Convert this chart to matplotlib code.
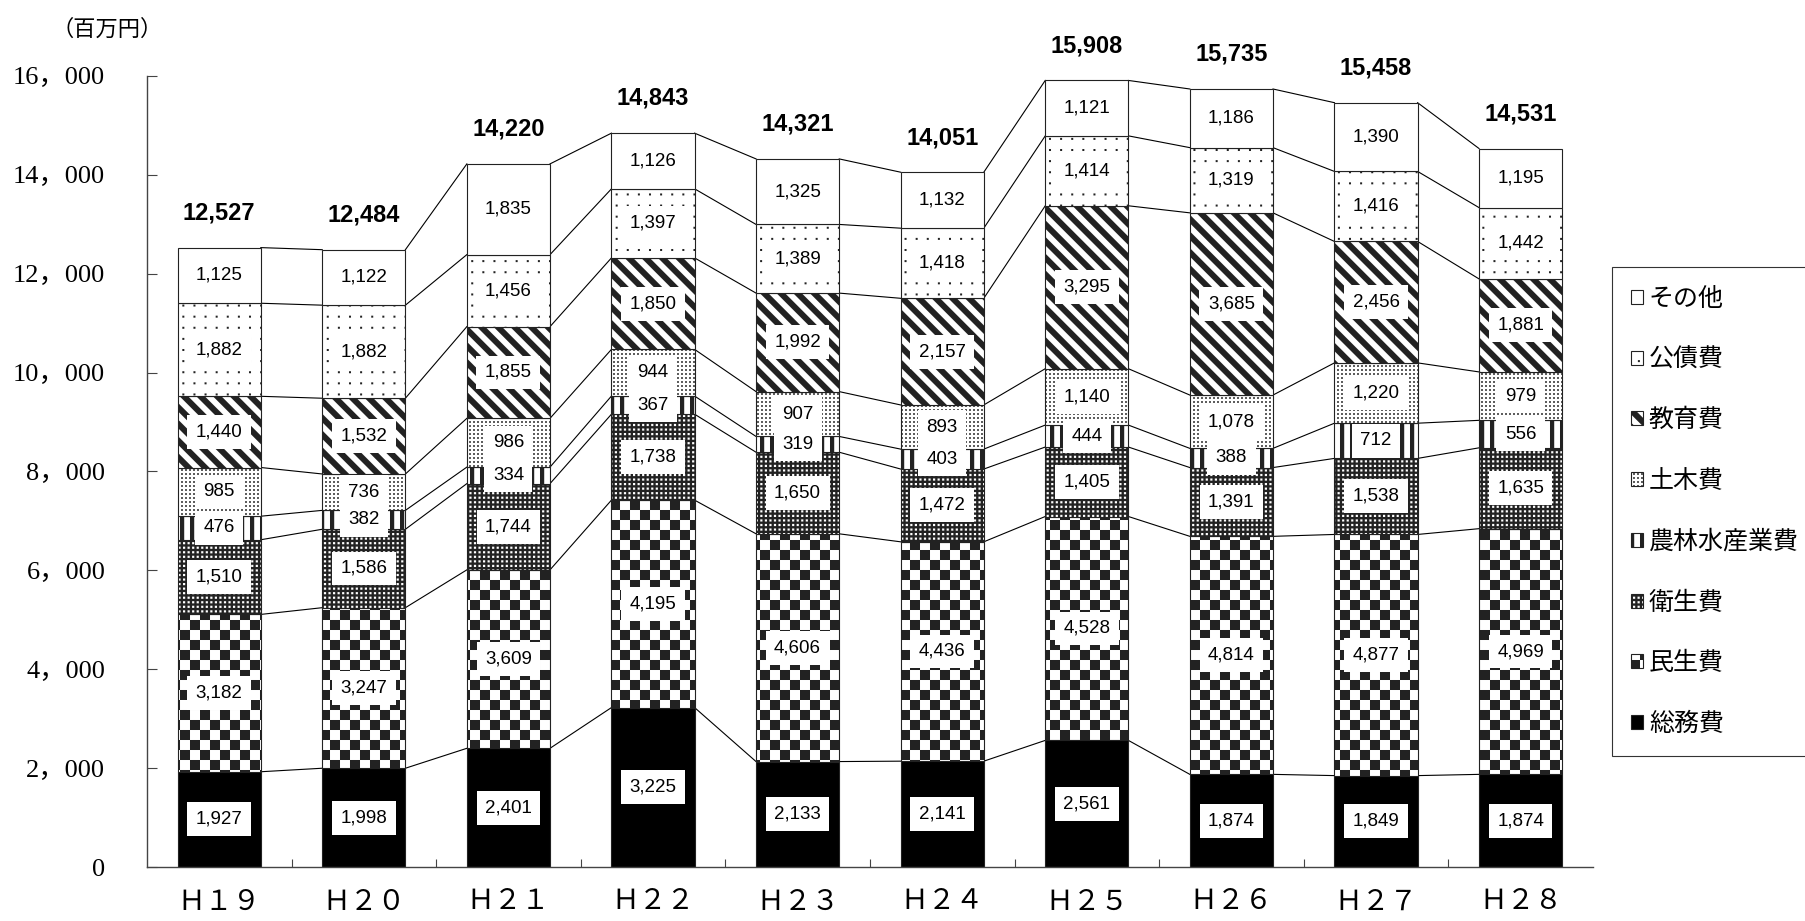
import warnings
import numpy as np
import matplotlib
matplotlib.use('Agg')
import matplotlib.pyplot as plt
import matplotlib.hatch as mhatch
from matplotlib.path import Path

warnings.filterwarnings('ignore')

# 年度
years = ['Ｈ１９', 'Ｈ２０', 'Ｈ２１', 'Ｈ２２', 'Ｈ２３',
         'Ｈ２４', 'Ｈ２５', 'Ｈ２６', 'Ｈ２７', 'Ｈ２８']
items = ['総務費', '民生費', '衛生費', '農林水産業費', '土木費', '教育費', '公債費', 'その他']

# 百万円
somu = [1927, 1998, 2401, 3225, 2133, 2141, 2561, 1874, 1849, 1874]
minsei = [3182, 3247, 3609, 4195, 4606, 4436, 4528, 4814, 4877, 4969]
eisei = [1510, 1586, 1744, 1738, 1650, 1472, 1405, 1391, 1538, 1635]
norin = [476, 382, 334, 367, 319, 403, 444, 388, 712, 556]
doboku = [985, 736, 986, 944, 907, 893, 1140, 1078, 1220, 979]
kyoiku = [1440, 1532, 1855, 1850, 1992, 2157, 3295, 3685, 2456, 1881]
kosai = [1882, 1882, 1456, 1397, 1389, 1418, 1414, 1319, 1416, 1442]
sonota = [1125, 1122, 1835, 1126, 1325, 1132, 1121, 1186, 1390, 1195]
totals = [12527, 12484, 14220, 14843, 14321, 14051, 15908, 15735, 15458, 14531]

series = [somu, minsei, eisei, norin, doboku, kyoiku, kosai, sonota]


# --- wlasne wzory kreskowania (komorka 1x1 = 1 cal) ---
def kw(x, y, s, rev=False):
    p = [[x, y], [x + s, y], [x + s, y + s], [x, y + s]]
    if rev:
        p = p[::-1]
    return np.array(p, float)


def tex_checker():
    n = 10
    c = 1.0 / n
    return [kw(i * c, j * c, c) for i in range(n) for j in range(n) if (i + j) % 2 == 0]


def tex_dark():
    n = 22
    c = 1.0 / n
    h = 0.022
    polys = [kw(0, 0, 1)]
    for i in range(n):
        for j in range(n):
            polys.append(kw(i * c + (c - h) / 2, j * c + (c - h) / 2, h, rev=True))
    return polys


def tex_vstripes():
    n = 10
    c = 1.0 / n
    w = 0.042
    return [np.array([[i * c, 0], [i * c + w, 0], [i * c + w, 1], [i * c, 1]], float)
            for i in range(n)]


def tex_dots(n, s):
    c = 1.0 / n
    return [kw(i * c + (c - s) / 2, j * c + (c - s) / 2, s) for i in range(n) for j in range(n)]


def tex_diag():
    n = 6
    w = 0.085
    polys = []
    for k in range(-1, 2 * n + 2):
        c0 = k / n
        polys.append(np.array([[0, c0], [1, c0 - 1], [1, c0 - 1 + w], [0, c0 + w]], float))
    return polys


TEXTURES = {
    'k': tex_checker,
    'e': tex_dark,
    'v': tex_vstripes,
    'd': lambda: tex_dots(25, 0.017),
    'b': tex_diag,
    's': lambda: tex_dots(9, 0.02),
}


class Texture(mhatch.HatchPatternBase):
    def __init__(self, hatch, density):
        self.polys = []
        for ch in TEXTURES:
            if ch in hatch:
                self.polys += TEXTURES[ch]()
        self.num_vertices = sum(len(p) + 1 for p in self.polys)

    def set_vertices_and_codes(self, vertices, codes):
        i = 0
        for p in self.polys:
            n = len(p)
            vertices[i:i + n] = p
            vertices[i + n] = p[0]
            codes[i] = Path.MOVETO
            codes[i + 1:i + n] = Path.LINETO
            codes[i + n] = Path.CLOSEPOLY
            i += n + 1


mhatch._hatch_types.append(Texture)
plt.rcParams['hatch.linewidth'] = 0.01

# styl serii: (kolor tla, wzor)
styles = [('black', None), ('white', 'k'), ('white', 'e'), ('white', 'v'),
          ('white', 'd'), ('white', 'b'), ('white', 's'), ('white', None)]

fig = plt.figure(figsize=(18.05, 9.21), dpi=100)
ax = fig.add_axes([0.0814, 0.0586, 0.8011, 0.859])

x = np.arange(len(years))
width = 0.575
edge = '#222222'

bottom = np.zeros(len(years))
handles = []
for k, vals in enumerate(series):
    vals = np.array(vals, float)
    fc, h = styles[k]
    bars = ax.bar(x, vals, width, bottom=bottom, facecolor=fc, edgecolor=edge,
                  hatch=h, linewidth=0.8, zorder=2, label=items[k])
    handles.append(bars)
    for xi, b, v in zip(x, bottom, vals):
        ax.text(xi, b + v / 2, f'{int(v):,}', ha='center', va='center',
                fontsize=13.5, family='Liberation Sans', zorder=5,
                bbox=dict(boxstyle='square,pad=0.45', fc='white', ec='none'))
    top = bottom + vals
    for i in range(len(years) - 1):
        ax.plot([x[i] + width / 2, x[i + 1] - width / 2], [top[i], top[i + 1]],
                color='black', lw=0.8, zorder=1.5)
    bottom = top

for xi, t in zip(x, totals):
    ax.annotate(f'{t:,}', (xi, t), xytext=(0, 25), textcoords='offset points',
                ha='center', va='center', fontsize=17, fontweight='bold',
                family='Liberation Sans', annotation_clip=False)

ax.set_xlim(-0.5, 9.5)
ax.set_ylim(0, 16000)

yt = list(range(0, 16001, 2000))
ax.set_yticks(yt)
ax.set_yticklabels([f'{v:,}'.replace(',', '，') for v in yt], fontsize=19,
                   fontfamily=['Liberation Serif', 'Noto Sans CJK JP'])
ax.tick_params(axis='y', direction='in', length=7, width=0.8, color='#444444', pad=30)

ax.set_xticks(np.arange(0.5, 9.0, 1.0))
ax.set_xticklabels([])
ax.tick_params(axis='x', which='major', direction='in', length=6, width=0.8, color='#444444')
ax.set_xticks(x, minor=True)
ax.set_xticklabels(years, minor=True, fontsize=20, fontfamily=['Noto Sans CJK JP'])
ax.tick_params(axis='x', which='minor', length=0, pad=14)

for s in ['top', 'right']:
    ax.spines[s].set_visible(False)
for s in ['left', 'bottom']:
    ax.spines[s].set_color('#444444')
    ax.spines[s].set_linewidth(1.0)

fig.text(0.0593, 0.9685, '（百万円）', ha='center', va='center', fontsize=16,
         family=['Noto Sans CJK JP'])

leg = ax.legend(handles[::-1], items[::-1], loc='upper left',
                bbox_to_anchor=(0.893, 0.710), bbox_transform=fig.transFigure,
                frameon=True, fancybox=False, edgecolor='#333333', framealpha=1,
                handlelength=0.48, handleheight=0.48, handletextpad=0.25,
                borderpad=0.75, labelspacing=1.39, borderaxespad=0,
                prop={'family': 'Noto Sans CJK JP', 'size': 18})
leg.get_frame().set_linewidth(0.8)

fig.savefig('out.png', dpi=100)
